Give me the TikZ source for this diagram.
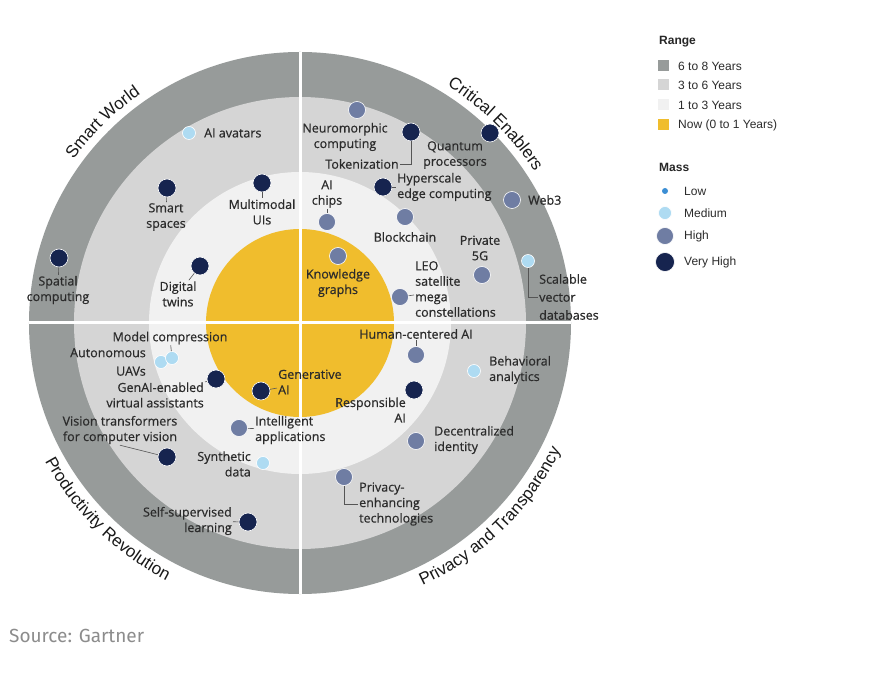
\documentclass[tikz,border=0pt]{standalone}
\usepackage{fontspec}
\usepackage{xcolor}
\usepackage{tikz}
\usetikzlibrary{decorations.text}
\newfontfamily\labelfont{Open Sans}[RawFeature={embolden=0.6}]
\newfontfamily\arialfont{Liberation Sans}
\newfontfamily\srcfont{Fira Sans}
\newcommand\quadfont{\arialfont\fontsize{17}{20}\selectfont}
\definecolor{ringdark}{HTML}{979B9A}
\definecolor{ringmid}{HTML}{D5D5D5}
\definecolor{ringlight}{HTML}{F1F1F1}
\definecolor{ringnow}{HTML}{F0BD2D}
\definecolor{vhighc}{HTML}{16244F}
\definecolor{highc}{HTML}{6F7DA3}
\definecolor{mediumc}{HTML}{AEDBF2}
\definecolor{lowc}{HTML}{3B8ED4}
\definecolor{labelc}{HTML}{2B2B2B}
\definecolor{leaderc}{HTML}{555555}
\definecolor{srcc}{HTML}{8C8C8C}
\begin{document}
\begin{tikzpicture}[x=1pt,y=1pt,
	dot/.style={circle,inner sep=0pt,draw=white,line width=0.6pt},
	vhigh/.style={dot,fill=vhighc,minimum size=18pt},
	high/.style={dot,fill=highc,minimum size=17pt},
	medium/.style={dot,fill=mediumc,minimum size=13pt},
	low/.style={dot,draw=none,fill=lowc,minimum size=6pt},
	lbl/.style={font=\labelfont\fontsize{12.5}{15.5}\selectfont,text=labelc,inner sep=1pt,align=center},
	leader/.style={draw=leaderc,line width=0.6pt},
	quadtitle/.style={decorate,decoration={text along path,text align=center,text color=black!90,text={|\quadfont|#1}}},
	swatch/.style={minimum size=11pt,inner sep=0pt},
	legtext/.style={font=\arialfont\fontsize{12}{14}\selectfont,text=labelc,anchor=west,inner sep=1pt},
	leghead/.style={font=\arialfont\bfseries\fontsize{12}{14}\selectfont,text=black!85,anchor=west,inner sep=1pt},
	]
	\fill[white] (-300,-351) rectangle (590,323);
	\useasboundingbox (-300,-351) rectangle (590,323);
	\fill[ringdark] (0,0) circle[radius=271];
	\fill[ringmid] (0,0) circle[radius=226];
	\fill[ringlight] (0,0) circle[radius=151];
	\fill[ringnow] (0,0) circle[radius=94];
	\draw[white,line width=3pt] (0,271) -- (0,-271);
	\draw[white,line width=3pt] (-271,0) -- (271,0);
	\path[quadtitle={Smart World}] (165:279) arc[start angle=165,end angle=104,radius=279];
	\path[quadtitle={Critical Enablers}] (76:279) arc[start angle=76,end angle=15,radius=279];
	\path[quadtitle={Productivity Revolution}] (195:290) arc[start angle=195,end angle=256,radius=290];
	\path[quadtitle={Privacy and Transparency}] (-76:290) arc[start angle=-76,end angle=-15,radius=290];
	\node[medium] (avatars) at (-111,190) {};
	\node[lbl,anchor=west] (avatars-l) at (-97,190) {AI avatars};
	\node[vhigh] (smart) at (-133,135) {};
	\node[lbl] (smart-l) at (-134,106) {Smart\\spaces};
	\node[vhigh] (multi) at (-38,140) {};
	\node[lbl] (multi-l) at (-38,111) {Multimodal\\UIs};
	\node[vhigh] (spatial) at (-241,65) {};
	\node[lbl] (spatial-l) at (-242,33) {Spatial\\computing};
	\node[vhigh] (twins) at (-100,57) {};
	\node[lbl] (twins-l) at (-122,29) {Digital\\twins};
	\node[high] (neuro) at (57,213) {};
	\node[lbl] (neuro-l) at (45,186) {Neuromorphic\\computing};
	\node[vhigh] (token) at (111,191) {};
	\node[lbl] (token-l) at (62,159) {Tokenization};
	\node[vhigh] (quantum) at (190,190) {};
	\node[lbl] (quantum-l) at (155,168) {Quantum\\processors};
	\node[vhigh] (hyper) at (83,136) {};
	\node[lbl,anchor=west,align=left] (hyper-l) at (96,136) {Hyperscale\\edge computing};
	\node[high] (chips) at (27,101) {};
	\node[lbl] (chips-l) at (27,129) {AI\\chips};
	\node[high] (block) at (105,106) {};
	\node[lbl] (block-l) at (105,86) {Blockchain};
	\node[high] (web) at (212,123) {};
	\node[lbl,anchor=west] (web-l) at (227,123) {Web3};
	\node[high] (fiveg) at (182,48) {};
	\node[lbl] (fiveg-l) at (180,75) {Private\\5G};
	\node[medium] (vector) at (228,62) {};
	\node[lbl,anchor=west,align=left] (vector-l) at (238,26) {Scalable\\[2.5pt]vector\\[2.5pt]databases};
	\node[high] (graphs) at (38,67) {};
	\node[lbl] (graphs-l) at (38,40) {Knowledge\\graphs};
	\node[high] (leo) at (100,26) {};
	\node[lbl,anchor=west,align=left] (leo-l) at (114,34) {LEO\\satellite\\mega\\constellations};
	\node[medium] (uavs) at (-139,-39) {};
	\node[lbl,anchor=east,align=right] (uavs-l) at (-153,-39) {Autonomous\\[3pt]UAVs};
	\node[medium] (compress) at (-128,-35) {};
	\node[lbl] (compress-l) at (-130,-15) {Model compression};
	\node[vhigh] (assist) at (-84,-56) {};
	\node[lbl,anchor=east,align=right] (assist-l) at (-95,-72) {GenAI-enabled\\virtual assistants};
	\node[vhigh] (genai) at (-39,-68) {};
	\node[lbl,anchor=west,align=left] (genai-l) at (-23,-59) {Generative\\AI};
	\node[high] (apps) at (-61,-105) {};
	\node[lbl,anchor=west,align=left] (apps-l) at (-46,-107) {Intelligent\\applications};
	\node[vhigh] (vit) at (-133,-134) {};
	\node[lbl] (vit-l) at (-180,-107) {Vision transformers\\for computer vision};
	\node[medium] (synth) at (-37,-140) {};
	\node[lbl,anchor=east,align=right] (synth-l) at (-48,-141) {Synthetic\\data};
	\node[vhigh] (selfsup) at (-52,-199) {};
	\node[lbl,anchor=east,align=right] (selfsup-l) at (-67,-198) {Self-supervised\\learning};
	\node[high] (human) at (116,-32) {};
	\node[lbl] (human-l) at (116,-11) {Human-centered AI};
	\node[medium] (behav) at (174,-48) {};
	\node[lbl,anchor=west,align=left] (behav-l) at (188,-47) {Behavioral\\analytics};
	\node[vhigh] (respai) at (114,-67) {};
	\node[lbl,anchor=east,align=right] (respai-l) at (107,-87) {Responsible\\AI};
	\node[high] (identity) at (116,-118) {};
	\node[lbl,anchor=west,align=left] (identity-l) at (133,-117) {Decentralized\\identity};
	\node[high] (privenh) at (44,-154) {};
	\node[lbl,anchor=west,align=left] (privenh-l) at (58,-181) {Privacy-\\enhancing\\technologies};
	\draw[leader] (smart) -- (smart-l);
	\draw[leader] (multi) -- (multi-l);
	\draw[leader] (spatial) -- (spatial-l);
	\draw[leader] (twins) -- (twins-l);
	\draw[leader] (token-l) -| (token);
	\draw[leader] (hyper) -- (hyper-l);
	\draw[leader] (chips-l) -- (chips);
	\draw[leader] (vector) |- (vector-l);
	\draw[leader] (leo) -- (leo-l);
	\draw[leader] (compress-l) -- (compress);
	\draw[leader] (assist-l) -- (assist);
	\draw[leader] (genai) -- (genai-l);
	\draw[leader] (apps) -- (apps-l);
	\draw[leader] (vit-l.south) -- (vit);
	\draw[leader] (selfsup-l) -- (selfsup);
	\draw[leader] (human-l) -- (human);
	\draw[leader] (privenh) |- (privenh-l);
	\node[leghead] (range) at (358,281) {Range};
	\node[swatch,fill=ringdark] (r68) at (363,257) {};
	\node[legtext] (r68-l) at (377,257) {6 to 8 Years};
	\node[swatch,fill=ringmid] (r36) at (363,238) {};
	\node[legtext] (r36-l) at (377,238) {3 to 6 Years};
	\node[swatch,fill=ringlight] (r13) at (363,218) {};
	\node[legtext] (r13-l) at (377,218) {1 to 3 Years};
	\node[swatch,fill=ringnow] (r01) at (363,198) {};
	\node[legtext] (r01-l) at (377,198) {Now (0 to 1 Years)};
	\node[leghead] (mass) at (358,156) {Mass};
	\node[low] (m-low) at (365,132) {};
	\node[legtext] (m-low-l) at (383,132) {Low};
	\node[medium] (m-med) at (365,110) {};
	\node[legtext] (m-med-l) at (383,110) {Medium};
	\node[high] (m-high) at (365,87) {};
	\node[legtext] (m-high-l) at (383,87) {High};
	\node[vhigh,minimum size=19pt] (m-vhigh) at (365,61) {};
	\node[legtext] (m-vhigh-l) at (383,61) {Very High};
	\node[font=\srcfont\fontsize{19}{22}\selectfont,text=srcc,anchor=base west,inner sep=0pt] (source) at (-291,-319) {Source: Gartner};
\end{tikzpicture}
\end{document}
